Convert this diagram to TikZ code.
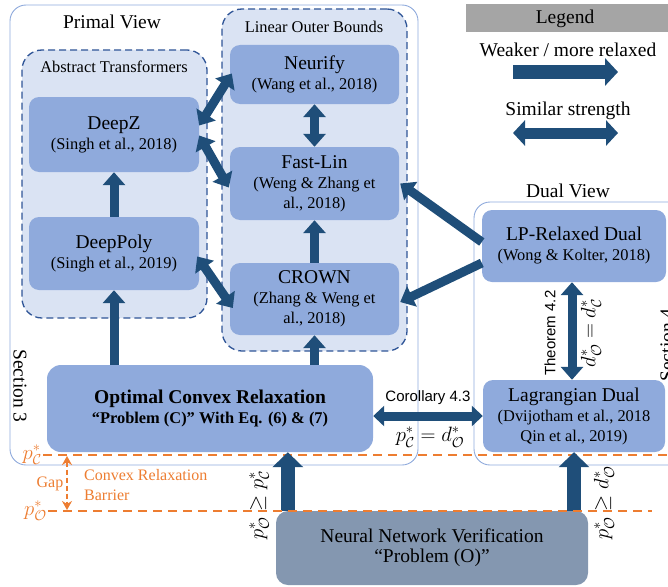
\documentclass[tikz,border=0pt]{standalone}
\usepackage{amsmath,amssymb}
\usepackage{fontspec}
\setmainfont{Liberation Serif}
\setsansfont{Liberation Sans}
\usetikzlibrary{arrows.meta}
\definecolor{boxblue}{HTML}{8FAADC}
\definecolor{lightblue}{HTML}{DAE3F3}
\definecolor{dashblue}{HTML}{2F5597}
\definecolor{arrblue}{HTML}{1F4E79}
\definecolor{orng}{HTML}{ED7D31}
\definecolor{nngray}{HTML}{8497B0}
\definecolor{leggray}{HTML}{A5A5A5}
\newcommand{\myBig}{\fontsize{19.5}{20}\selectfont}
\newcommand{\mySmall}{\fontsize{16.4}{20}\selectfont}
\begin{document}
\begin{tikzpicture}[x=1pt,y=-1pt,
  blk/.style={fill=boxblue, rounded corners=10pt, inner sep=0pt, align=center, font=\mySmall},
  cont/.style={draw=dashblue, fill=lightblue, line width=1.3pt, dash pattern=on 7pt off 4pt, rounded corners=20pt, inner sep=0pt},
  view/.style={draw=boxblue, line width=0.9pt, rounded corners=16pt, inner sep=0pt},
  title/.style={inner sep=0pt, font=\myBig},
  stitle/.style={inner sep=0pt, font=\mySmall},
  arr/.style={draw=arrblue, line width=9pt, -{Triangle[width=22pt,length=13pt]}},
  darr/.style={draw=arrblue, line width=9pt, {Triangle[width=22pt,length=13pt]}-{Triangle[width=22pt,length=13pt]}},
  bigarr/.style={draw=arrblue, line width=14pt, -{Triangle[width=30pt,length=15pt]}},
  odash/.style={draw=orng, line width=2.2pt, dash pattern=on 9pt off 6pt},
  olab/.style={text=orng, inner sep=1pt, font=\fontsize{20}{22}\selectfont},
  otext/.style={text=orng, inner sep=0pt, font=\fontsize{16}{20}\selectfont, align=left},
  mlab/.style={inner sep=1pt, font=\fontsize{21}{22}\selectfont},
  sanslab/.style={inner sep=0pt, font=\sffamily\fontsize{15}{18}\selectfont}
]
\useasboundingbox (0,0) rectangle (668,586);

% views
\node[view, minimum width=408pt, minimum height=460pt] (primal) at (214,235) {};
\node[view, minimum width=226pt, minimum height=263pt] (dual) at (587,333.5) {};
\node[title] (primaltitle) at (112,22) {Primal View};
\node[title] (dualtitle) at (568,191) {Dual View};

% containers
\node[cont, minimum width=185pt, minimum height=268pt] (abstr) at (114.5,184) {};
\node[cont, minimum width=185pt, minimum height=342pt] (linear) at (314.5,180) {};
\node[stitle] (abstrtitle) at (114,67) {Abstract Transformers};
\node[stitle] (lineartitle) at (314,27) {Linear Outer Bounds};

% legend
\node[fill=leggray, minimum width=202pt, minimum height=28pt, inner sep=0pt] (legend) at (567,18) {};
\node[title] (legendtxt) at (565,19) {Legend};
\node[title] (weaker) at (568,50) {Weaker / more relaxed};
\node[title] (similar) at (568,111) {Similar strength};
\coordinate (wa) at (513,72);
\coordinate (wb) at (618,72);
\coordinate (sa) at (513,133);
\coordinate (sb) at (618,133);
\draw[draw=arrblue, line width=14pt, -{Triangle[width=27pt,length=13pt]}] (wa) -- (wb);
\draw[draw=arrblue, line width=11pt, {Triangle[width=25pt,length=12pt]}-{Triangle[width=25pt,length=12pt]}] (sa) -- (sb);

% blocks
\node[blk, minimum width=170pt, minimum height=75pt] (deepz) at (114,134.5) {{\myBig DeepZ}\\(Singh et al., 2018)};
\node[blk, minimum width=170pt, minimum height=73pt] (deeppoly) at (114,253.5) {{\myBig DeepPoly}\\(Singh et al., 2019)};
\node[blk, minimum width=169pt, minimum height=59pt] (neurify) at (314.5,74.5) {{\myBig Neurify}\\(Wang et al., 2018)};
\node[blk, minimum width=169pt, minimum height=73pt] (fastlin) at (314.5,183.5) {{\myBig Fast-Lin}\\(Weng \& Zhang et\\al., 2018)};
\node[blk, minimum width=169pt, minimum height=72pt] (crown) at (314.5,299) {{\myBig CROWN}\\(Zhang \& Weng et\\al., 2018)};
\node[blk, minimum width=184pt, minimum height=72pt] (lp) at (574,246) {{\myBig LP-Relaxed Dual}\\(Wong \& Kolter, 2018)};
\node[blk, minimum width=182pt, minimum height=72pt] (lag) at (574,416) {{\myBig Lagrangian Dual}\\(Dvijotham et al., 2018\\Qin et al., 2019)};
\node[blk, rounded corners=14pt, minimum width=326pt, minimum height=87pt, font=\bfseries\mySmall] (ocr) at (210,408.5) {{\myBig Optimal Convex Relaxation}\\“Problem (C)” With Eq. (6) \& (7)};
\node[blk, fill=nngray, rounded corners=12pt, minimum width=312pt, minimum height=74pt, font=\myBig] (nn) at (432,548) {Neural Network Verification\\“Problem (O)”};

% section labels
\node[title, rotate=-90] (sec3) at (20,386) {Section 3};
\node[title, rotate=90] (sec4) at (667,345) {Section 4};

% arrows in primal view
\draw[arr] (deeppoly.north) -- (deepz.south);
\draw[arr] (deeppoly.south |- ocr.north) -- (deeppoly.south);
\draw[arr] (crown.south |- ocr.north) -- (crown.south);
\draw[arr] (crown.north) -- (fastlin.south);
\draw[darr] (neurify.south) -- (fastlin.north);
\draw[darr] ([yshift=9pt]deepz.east) -- ([xshift=2pt,yshift=1pt]neurify.west);
\draw[darr] ([yshift=-1pt]deepz.east) -- ([xshift=-1pt,yshift=-4pt]fastlin.west);
\draw[darr] ([xshift=-2pt,yshift=-3pt]deeppoly.east) -- ([xshift=3pt,yshift=-9pt]crown.west);
\draw[arr] ([yshift=4pt]lp.west) -- ([xshift=1pt]fastlin.east);
\draw[arr] ([yshift=-17pt]lp.west) -- ([xshift=1pt,yshift=-3pt]crown.east);

% dual arrows
\draw[darr] ([xshift=-2pt]lp.south) -- ([xshift=-2pt]lag.north);
\node[sanslab, rotate=90] (thm) at (550,333) {Theorem 4.2};
\node[mlab, rotate=90] (deq) at (591,333) {$d^*_{\mathcal{O}} = d^*_{\mathcal{C}}$};
\draw[draw=arrblue, line width=9pt, {Triangle[width=20pt,length=11pt]}-{Triangle[width=20pt,length=11pt]}] (ocr.east |- lag.west) -- (lag.west);
\node[sanslab] (coro) at (428,398) {Corollary 4.3};
\node[mlab] (peq) at (430,437) {$p^*_{\mathcal{C}} = d^*_{\mathcal{O}}$};

% orange barrier
\coordinate (pcl) at (43,455);
\coordinate (pcr) at (668,455);
\coordinate (pol) at (48,511);
\coordinate (por) at (652,511);
\coordinate (ga) at (67,456);
\coordinate (gb) at (67,510);
\draw[odash] (pcl) -- (pcr);
\node[olab, anchor=east] (pclab) at (pcl) {$p^*_{\mathcal{C}}$};
\node[olab, anchor=east] (polab) at (pol) {$p^*_{\mathcal{O}}$};
\draw[draw=orng, line width=1.8pt, dash pattern=on 5pt off 3pt, {Stealth[width=10pt,length=9pt]}-{Stealth[width=10pt,length=9pt]}] (ga) -- (gb);
\node[otext] (gap) at (50,484) {Gap};
\node[otext, anchor=west] (barrier) at (84,485) {Convex Relaxation\\Barrier};

% verification arrows
\draw[bigarr] ([xshift=12pt]nn.north west) -- ([xshift=12pt]nn.north west |- ocr.south);
\draw[bigarr] (lag.south |- nn.north) -- (lag.south);
\draw[odash] (pol) -- (por);
\node[mlab, rotate=90] (ge1) at (259,505) {$p^*_{\mathcal{O}} \geq p^*_{\mathcal{C}}$};
\node[mlab, rotate=90] (ge2) at (604,503) {$p^*_{\mathcal{O}} \geq d^*_{\mathcal{O}}$};
\end{tikzpicture}
\end{document}
